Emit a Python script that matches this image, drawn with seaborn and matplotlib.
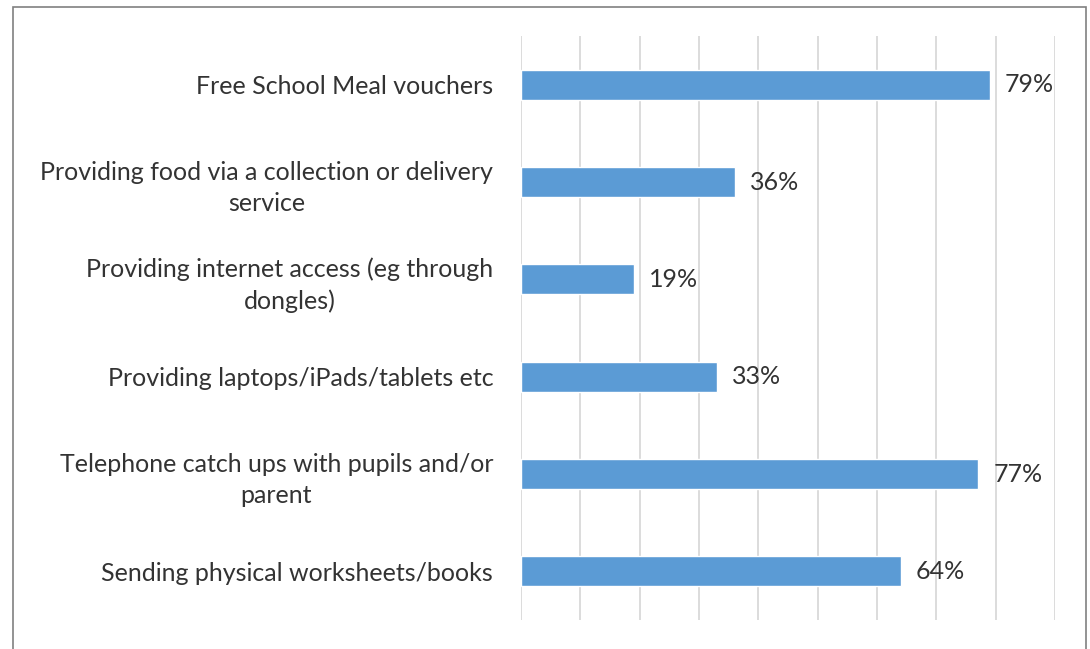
import matplotlib
matplotlib.use("Agg")
import matplotlib.pyplot as plt
import matplotlib.patches as mpatches
import seaborn as sns
import pandas as pd

categories = [
    "Free School Meal vouchers",
    "Providing food via a collection or delivery\nservice",
    "Providing internet access (eg through\ndongles)",
    "Providing laptops/iPads/tablets etc",
    "Telephone catch ups with pupils and/or\nparent",
    "Sending physical worksheets/books",
]
values = [79, 36, 19, 33, 77, 64]

sns.set_theme(style="white")
plt.rcParams['font.family'] = ['Lato', 'DejaVu Sans']

df = pd.DataFrame({"category": categories, "value": values})

fig = plt.figure(figsize=(10.9, 6.49), dpi=100)
ax = fig.add_axes([521 / 1090, 1 - 620 / 649, (1055 - 521) / 1090, (620 - 36) / 649])

sns.barplot(data=df, x="value", y="category", color="#5B9BD5", width=0.31,
            saturation=1, ax=ax, zorder=3)

ax.set_xlim(0, 90)
ax.set_xticks(range(0, 91, 10))
ax.xaxis.grid(True, color="#d9d9d9", linewidth=1.3, zorder=0)
ax.tick_params(axis="x", length=0, labelbottom=False)
ax.tick_params(axis="y", length=0, pad=20, labelsize=18, labelcolor="#333333")
for lbl in ax.get_yticklabels():
    lbl.set_multialignment("center")
    lbl.set_linespacing(1.4)
ax.set_xlabel("")
ax.set_ylabel("")
for s in ax.spines.values():
    s.set_visible(False)

for p, v in zip(ax.patches, values):
    ax.annotate(f"{v}%", (p.get_width(), p.get_y() + p.get_height() / 2),
                xytext=(11, 0), textcoords="offset points", ha="left", va="center",
                fontsize=18, color="#333333")

frame = mpatches.Rectangle((13 / 1090, -0.05), (1086 - 13) / 1090, 1 - 7 / 649 + 0.05,
                           transform=fig.transFigure, fill=False, edgecolor="#808080",
                           linewidth=1.2, zorder=10)
fig.patches.append(frame)

fig.savefig("out.png", dpi=100)
